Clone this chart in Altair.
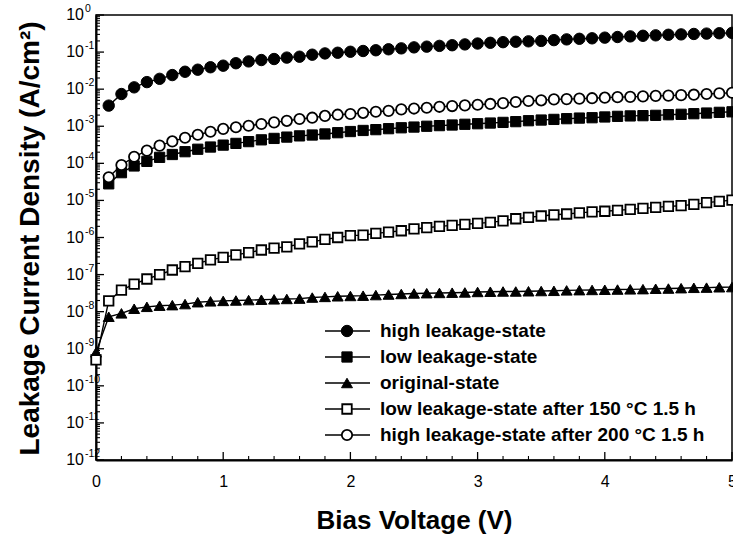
import altair as alt
import pandas as pd

# ---------------- data ----------------
VOLT = [0.0, 0.1, 0.2, 0.3, 0.4, 0.5, 0.6, 0.7, 0.8, 0.9, 1.0,
        1.1, 1.2, 1.3, 1.4, 1.5, 1.6, 1.7, 1.8, 1.9, 2.0,
        2.1, 2.2, 2.3, 2.4, 2.5, 2.6, 2.7, 2.8, 2.9, 3.0,
        3.1, 3.2, 3.3, 3.4, 3.5, 3.6, 3.7, 3.8, 3.9, 4.0,
        4.1, 4.2, 4.3, 4.4, 4.5, 4.6, 4.7, 4.8, 4.9, 5.0]

# series starting at 0.1 V
HIGH = [3.6e-3, 7.4e-3, 1.12e-2, 1.55e-2, 1.9e-2, 2.4e-2, 2.95e-2, 3.35e-2, 3.9e-2, 4.3e-2,
        5.0e-2, 5.6e-2, 6.1e-2, 6.5e-2, 7.1e-2, 7.5e-2, 8.5e-2, 9.2e-2, 9.6e-2, 0.102,
        0.107, 0.112, 0.119, 0.126, 0.134, 0.140, 0.147, 0.153, 0.161, 0.170,
        0.178, 0.185, 0.190, 0.195, 0.200, 0.210, 0.220, 0.228, 0.235, 0.245,
        0.255, 0.265, 0.275, 0.283, 0.293, 0.300, 0.308, 0.315, 0.322, 0.330]
LOW = [2.8e-5, 5.6e-5, 8.5e-5, 1.13e-4, 1.45e-4, 1.73e-4, 2.06e-4, 2.4e-4, 2.75e-4, 3.1e-4,
       3.45e-4, 3.85e-4, 4.3e-4, 4.7e-4, 5.1e-4, 5.5e-4, 5.8e-4, 6.2e-4, 6.7e-4, 7.2e-4,
       7.7e-4, 8.1e-4, 8.6e-4, 9.1e-4, 9.5e-4, 1.0e-3, 1.04e-3, 1.08e-3, 1.13e-3, 1.17e-3,
       1.22e-3, 1.27e-3, 1.33e-3, 1.41e-3, 1.47e-3, 1.53e-3, 1.6e-3, 1.66e-3, 1.7e-3, 1.78e-3,
       1.85e-3, 1.9e-3, 1.93e-3, 1.97e-3, 2.05e-3, 2.1e-3, 2.18e-3, 2.27e-3, 2.37e-3, 2.45e-3]
HIGH200 = [4.2e-5, 9.0e-5, 1.5e-4, 2.2e-4, 3.0e-4, 3.9e-4, 4.9e-4, 5.9e-4, 7.1e-4, 8.5e-4,
           9.4e-4, 1.03e-3, 1.15e-3, 1.27e-3, 1.4e-3, 1.57e-3, 1.7e-3, 1.9e-3, 2.05e-3, 2.14e-3,
           2.3e-3, 2.46e-3, 2.6e-3, 2.85e-3, 3.0e-3, 3.15e-3, 3.35e-3, 3.5e-3, 3.65e-3, 3.8e-3,
           4.0e-3, 4.2e-3, 4.5e-3, 4.8e-3, 5.0e-3, 5.3e-3, 5.4e-3, 5.55e-3, 5.7e-3, 5.9e-3,
           6.1e-3, 6.2e-3, 6.4e-3, 6.6e-3, 6.7e-3, 6.9e-3, 7.1e-3, 7.4e-3, 7.7e-3, 8.0e-3]
# series starting at 0 V
ORIG = [8.0e-10,
        7.3e-9, 9.0e-9, 1.2e-8, 1.35e-8, 1.45e-8, 1.5e-8, 1.6e-8, 1.8e-8, 1.9e-8, 1.95e-8,
        2.0e-8, 2.05e-8, 2.1e-8, 2.15e-8, 2.2e-8, 2.25e-8, 2.4e-8, 2.5e-8, 2.6e-8, 2.65e-8,
        2.7e-8, 2.8e-8, 2.9e-8, 3.0e-8, 3.1e-8, 3.15e-8, 3.2e-8, 3.25e-8, 3.3e-8, 3.4e-8,
        3.45e-8, 3.5e-8, 3.5e-8, 3.55e-8, 3.6e-8, 3.65e-8, 3.75e-8, 3.8e-8, 3.85e-8, 3.9e-8,
        3.95e-8, 4.0e-8, 4.05e-8, 4.15e-8, 4.2e-8, 4.3e-8, 4.4e-8, 4.45e-8, 4.55e-8, 4.6e-8]
LOW150 = [5.0e-10,
          1.95e-8, 3.8e-8, 5.5e-8, 7.6e-8, 1.0e-7, 1.33e-7, 1.64e-7, 2.0e-7, 2.5e-7, 2.9e-7,
          3.4e-7, 3.9e-7, 4.6e-7, 5.2e-7, 5.6e-7, 6.7e-7, 7.6e-7, 8.9e-7, 1.0e-6, 1.12e-6,
          1.16e-6, 1.29e-6, 1.4e-6, 1.52e-6, 1.7e-6, 1.84e-6, 2.0e-6, 2.13e-6, 2.27e-6, 2.4e-6,
          2.56e-6, 2.8e-6, 3.2e-6, 3.5e-6, 3.8e-6, 4.1e-6, 4.3e-6, 4.6e-6, 4.9e-6, 5.1e-6,
          5.4e-6, 5.75e-6, 6.1e-6, 6.5e-6, 6.9e-6, 7.2e-6, 7.8e-6, 8.7e-6, 9.4e-6, 1.02e-5]

LABELS = ["high leakage-state",
          "low leakage-state",
          "original-state",
          "low leakage-state after 150 \u00b0C 1.5 h",
          "high leakage-state after 200 \u00b0C 1.5 h"]
SERIES_VALUES = [HIGH, LOW, ORIG, LOW150, HIGH200]

Y_EXPONENTS = [0, -1, -2, -3, -4, -5, -6, -7, -8, -9, -10, -11, -12]
Y_EXP_LABELS = ["0", "-1", "-2", "-3", "-4", "-5", "-6", "-7", "-8", "-9", "-10", "-11", "-12"]
X_TICKS = [0, 1, 2, 3, 4, 5]
X_MINOR = [0.2, 0.4, 0.6, 0.8, 1.2, 1.4, 1.6, 1.8, 2.2, 2.4, 2.6, 2.8,
           3.2, 3.4, 3.6, 3.8, 4.2, 4.4, 4.6, 4.8]
MINOR_MULT = [2, 3, 4, 5, 6, 7, 8, 9]

# ---------------- styles ----------------
FONT = "Liberation Sans"
W, H = 636, 445
STYLES = [
    dict(shape="circle", filled=True, fill="black", stroke="black", strokeWidth=1, size=130),
    dict(shape="square", filled=True, fill="black", stroke="black", strokeWidth=1, size=105),
    dict(shape="triangle-up", filled=True, fill="black", stroke="black", strokeWidth=1, size=120),
    dict(shape="square", filled=True, fill="white", stroke="black", strokeWidth=1.8, size=90),
    dict(shape="circle", filled=True, fill="white", stroke="black", strokeWidth=1.8, size=108),
]

rows = []
for lab, vals in zip(LABELS, SERIES_VALUES):
    xs_ = VOLT[len(VOLT) - len(vals):]
    for v, j in zip(xs_, vals):
        rows.append({"V": v, "J": j, "series": lab})
df = pd.DataFrame(rows)

xscale = alt.Scale(domain=[0, 5], nice=False, zero=False)
yscale = alt.Scale(type="log", domain=[1e-12, 1], nice=False)

lines = alt.Chart(df).mark_line(color="black", strokeWidth=1.4).encode(
    x=alt.X("V:Q", scale=xscale,
            axis=alt.Axis(values=X_TICKS, format="d", ticks=False, grid=False,
                          domainColor="black", domainWidth=2, labelFont=FONT,
                          labelFontSize=16, labelColor="black", labelPadding=13,
                          labelFlush=False, title="Bias Voltage (V)",
                          titleFont=FONT, titleFontSize=26, titleFontWeight="bold",
                          titleColor="black", titleY=68, titleBaseline="alphabetic")),
    y=alt.Y("J:Q", scale=yscale,
            axis=alt.Axis(labels=False, ticks=False, grid=False, domainColor="black",
                          domainWidth=2, title="Leakage Current Density (A/cm\u00b2)",
                          titleFont=FONT, titleFontSize=28, titleFontWeight="bold",
                          titleColor="black", titleAngle=-90, titleX=-66, titleY=223,
                          titleAlign="center", titleBaseline="middle")),
    detail="series:N",
)

point_layers = []
for lab, st in zip(LABELS, STYLES):
    point_layers.append(
        alt.Chart(df[df["series"] == lab]).mark_point(opacity=1, **st).encode(
            x=alt.X("V:Q", scale=xscale),
            y=alt.Y("J:Q", scale=yscale),
        )
    )

# ticks (drawn inside the frame)
ymaj_df = pd.DataFrame({"t": [10.0 ** e for e in Y_EXPONENTS], "lab": Y_EXP_LABELS})
ymin_df = pd.DataFrame({"t": [m * 10.0 ** e for e in Y_EXPONENTS[1:] for m in MINOR_MULT]})
ymaj = alt.Chart(ymaj_df).mark_rule(color="black", strokeWidth=1.3).encode(
    y=alt.Y("t:Q", scale=yscale), x=alt.value(0), x2=alt.value(8))
ymin = alt.Chart(ymin_df).mark_rule(color="black", strokeWidth=1.1).encode(
    y=alt.Y("t:Q", scale=yscale), x=alt.value(0), x2=alt.value(4))
xmaj = alt.Chart(pd.DataFrame({"t": X_TICKS})).mark_rule(color="black", strokeWidth=1.3).encode(
    x=alt.X("t:Q", scale=xscale), y=alt.value(H), y2=alt.value(H - 8))
xmin = alt.Chart(pd.DataFrame({"t": X_MINOR})).mark_rule(color="black", strokeWidth=1.1).encode(
    x=alt.X("t:Q", scale=xscale), y=alt.value(H), y2=alt.value(H - 4))

# y tick labels with superscript exponents
ylab_base = alt.Chart(ymaj_df).mark_text(
    align="right", baseline="middle", font=FONT, fontSize=16, color="black").encode(
    y=alt.Y("t:Q", scale=yscale), x=alt.value(-12), text=alt.value("10"))
ylab_exp = alt.Chart(ymaj_df).mark_text(
    align="left", baseline="middle", font=FONT, fontSize=10.5, color="black", dy=-6).encode(
    y=alt.Y("t:Q", scale=yscale), x=alt.value(-11), text="lab:N")

# legend inside plot
LEG_Y0, LEG_DY = 316, 26
LEG_X1, LEG_X2, LEG_XM, LEG_XT = 229, 274, 251, 284
legend_layers = []
dummy = pd.DataFrame({"a": [0]})
for i, (lab, st) in enumerate(zip(LABELS, STYLES)):
    yy = LEG_Y0 + i * LEG_DY
    legend_layers.append(alt.Chart(dummy).mark_rule(color="black", strokeWidth=1.4).encode(
        x=alt.value(LEG_X1), x2=alt.value(LEG_X2), y=alt.value(yy)))
    legend_layers.append(alt.Chart(dummy).mark_point(opacity=1, **st).encode(
        x=alt.value(LEG_XM), y=alt.value(yy)))
    legend_layers.append(alt.Chart(dummy).mark_text(
        align="left", baseline="middle", font=FONT, fontSize=19, fontWeight="bold",
        color="black").encode(x=alt.value(LEG_XT), y=alt.value(yy), text=alt.value(lab)))

chart = alt.layer(
    lines, ymin, ymaj, xmin, xmaj, *point_layers, ylab_base, ylab_exp, *legend_layers
).properties(
    width=W, height=H,
    autosize=alt.AutoSizeParams(type="none"),
    padding={"left": 96, "top": 15, "right": 1, "bottom": 80},
    background="white",
).configure_view(stroke="black", strokeWidth=1.5)

chart.save("out.html", embed_options={"renderer": "svg", "actions": False})
